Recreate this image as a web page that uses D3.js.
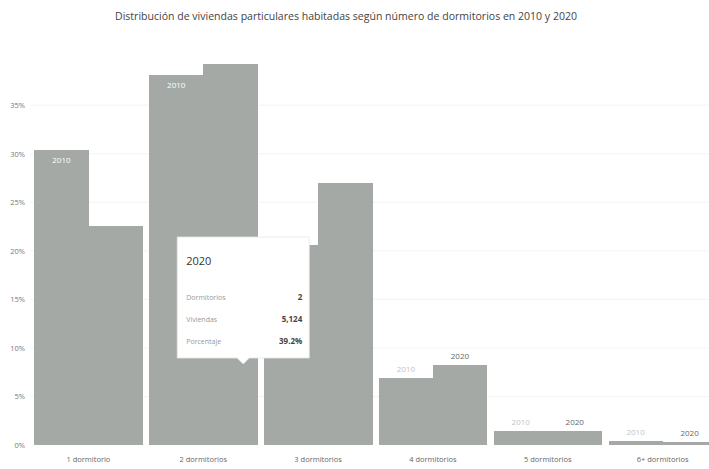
<!DOCTYPE html>
<html>
<head>
<meta charset="utf-8">
<script src="https://cdn.jsdelivr.net/npm/d3@7"></script>
<style>
  body { margin: 0; background: #fff; }
  svg { display: block; font-family: "Open Sans", sans-serif; }
</style>
</head>
<body>
<svg width="709" height="469"></svg>
<script>
// data
var categorias = ["1 dormitorio", "2 dormitorios", "3 dormitorios", "4 dormitorios", "5 dormitorios", "6+ dormitorios"];
var series = ["2010", "2020"];
var valores2010 = [30.4, 38.1, 20.6, 6.9, 1.4, 0.4];
var valores2020 = [22.6, 39.2, 27.0, 8.2, 1.4, 0.3];
var yTicks = [0, 5, 10, 15, 20, 25, 30, 35];
var tooltipTitulo = "2020";
var tooltipFilas = [["Dormitorios", "2"], ["Viviendas", "5,124"], ["Porcentaje", "39.2%"]];

var svg = d3.select("svg"),
    width = 709,
    height = 469

var datos = [];
categorias.forEach(function(c, i) {
  datos.push({cat: c, serie: "2010", v: valores2010[i]});
  datos.push({cat: c, serie: "2020", v: valores2020[i]});
});

var x = d3.scaleBand()
    .domain(categorias)
    .range([31, 720])
    .paddingInner(0.06)
    .paddingOuter(0.03)

var x1 = d3.scaleBand()
    .domain(series)
    .range([0, x.bandwidth()])

var y = d3.scaleLinear()
    .domain([0, 40])
    .range([445, 56.6])

// title
svg.append("text")
    .attr("x", 346)
    .attr("y", 20)
    .attr("text-anchor", "middle")
    .attr("font-size", 11)
    .attr("fill", "#444")
    .attr("textLength", 462)
    .attr("lengthAdjust", "spacingAndGlyphs")
    .text("Distribución de viviendas particulares habitadas según número de dormitorios en 2010 y 2020")

// grid
svg.append("g")
    .selectAll("line")
    .data(yTicks.slice(1))
    .enter()
    .append("line")
      .attr("x1", 31)
      .attr("x2", width)
      .attr("y1", function(d){ return y(d) })
      .attr("y2", function(d){ return y(d) })
      .attr("stroke", "#f3f3f3")
      .attr("stroke-width", 1)

// y axis
var yAxis = svg.append("g")
    .attr("transform", "translate(28,0)")
    .call(d3.axisLeft(y).tickValues(yTicks).tickSize(0).tickFormat(function(d){ return d + "%" }))
yAxis.select(".domain").remove()
yAxis.selectAll("text")
    .attr("font-size", 7.5)
    .attr("fill", "#777")
    .attr("font-family", "Open Sans, sans-serif")

// bars
svg.append("g")
    .selectAll("rect")
    .data(datos)
    .enter()
    .append("rect")
      .attr("x", function(d){ return x(d.cat) + x1(d.serie) })
      .attr("y", function(d){ return y(d.v) })
      .attr("width", x1.bandwidth() + 0.5)
      .attr("height", function(d){ return y(0) - y(d.v) })
      .attr("fill", "#a4a9a6")
      .attr("shape-rendering", "crispEdges")

// labels on bars
svg.append("g")
    .selectAll("text")
    .data(datos.filter(function(d){ return d.v < 15 || d.serie == "2010" }))
    .enter()
    .append("text")
      .attr("x", function(d){ return x(d.cat) + x1(d.serie) + x1.bandwidth() / 2 })
      .attr("y", function(d){ return d.v < 15 ? y(d.v) - 6 : y(d.v) + 13 })
      .attr("text-anchor", "middle")
      .attr("font-size", 8)
      .attr("fill", function(d){
        if (d.v >= 15) return "#fff";
        return d.serie == "2010" ? "#c4c4c4" : "#666";
      })
      .text(function(d){ return d.serie })

// x axis labels
var xAxis = svg.append("g")
    .attr("transform", "translate(0," + y(0) + ")")
    .call(d3.axisBottom(x).tickSize(0).tickPadding(12))
xAxis.select(".domain").remove()
xAxis.selectAll("text")
    .attr("font-size", 7.5)
    .attr("fill", "#666")
    .attr("font-family", "Open Sans, sans-serif")

// tooltip on 2 dormitorios / 2020
var tipCat = categorias[1];
var tipX = x(tipCat) + x1("2020") + x1.bandwidth() / 2 + 11;
var tip = svg.append("g")
    .attr("transform", "translate(" + (tipX - 64) + ",237)")

tip.append("path")
    .attr("d", "M0,0 H132 V121 H72 L66,127 L60,121 H0 Z")
    .attr("fill", "#fff")
    .attr("stroke", "#e6e6e6")
    .attr("stroke-width", 0.8)

tip.append("text")
    .attr("x", 9)
    .attr("y", 28)
    .attr("font-size", 11)
    .attr("fill", "#333")
    .text(tooltipTitulo)

tip.selectAll(".fila")
    .data(tooltipFilas)
    .enter()
    .append("g")
      .attr("class", "fila")
      .attr("transform", function(d, i){ return "translate(0," + (63 + i * 22) + ")" })
      .each(function(d) {
        var g = d3.select(this);
        g.append("text").attr("x", 9).attr("font-size", 7).attr("fill", "#999").text(d[0]);
        g.append("text").attr("x", 125).attr("text-anchor", "end").attr("font-size", 8)
          .attr("font-weight", "bold").attr("fill", "#444").text(d[1]);
      })
</script>
</body>
</html>
